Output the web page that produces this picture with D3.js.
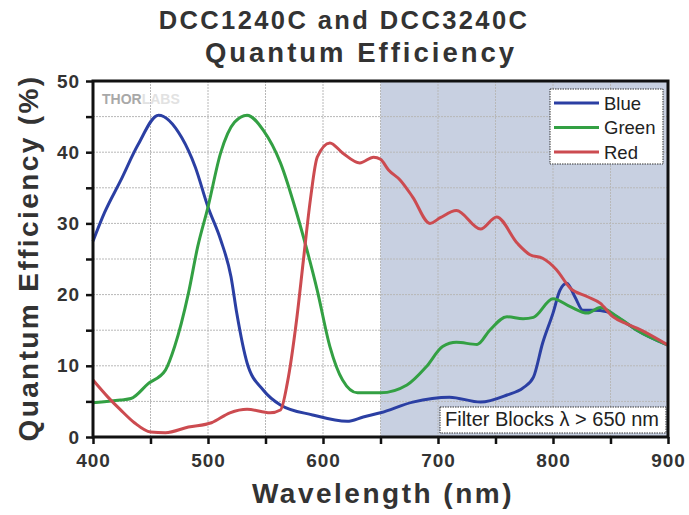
<!DOCTYPE html>
<html><head><meta charset="utf-8">
<script src="https://cdn.jsdelivr.net/npm/d3@7/dist/d3.min.js"></script>
<style>body{margin:0;background:#fff}svg{display:block}</style>
</head><body>
<svg id="c" width="689" height="515"></svg>
<script>
const titleLines = ["DCC1240C and DCC3240C", "Quantum Efficiency"];
const xTicks = [400, 500, 600, 700, 800, 900];
const yTicks = [0, 10, 20, 30, 40, 50];
const seriesNames = ["Blue", "Green", "Red"];
const seriesColors = ["#2b3fa3", "#33a043", "#cc4b50"];
const blueWl = [400,410,424,439,457,477,489,500,511,520,525,534,548,563,591,621,635,650,678,710,737,760,774,783,791,800,806,812,819,826,835,847,860,873,900];
const blueQE = [27.5,31.5,36.0,41.0,45.2,42.1,37.9,32.3,27.7,22.5,17.4,10.4,6.6,4.5,3.1,2.2,2.8,3.4,4.9,5.6,4.9,5.9,6.9,8.4,13.2,17.4,20.6,21.6,19.7,17.8,17.8,17.6,16.4,15.0,12.9];
const greenWl = [400,424,433,448,463,471,483,491,500,511,523,534,548,563,577,586,595,606,617,630,650,673,690,704,716,734,745,760,774,783,800,815,830,841,856,873,900];
const greenQE = [4.8,5.2,5.4,7.5,9.4,12.7,20.2,26.7,32.3,39.9,44.2,45.2,43.1,38.5,31.5,26.3,20.6,12.7,8.0,6.2,6.2,7.3,9.9,12.7,13.3,13.0,15.0,16.9,16.6,16.8,19.4,18.3,17.4,18.2,16.9,15.0,12.9];
const redWl = [400,413,424,436,450,463,483,503,519,534,554,563,569,577,583,589,595,606,617,632,644,650,657,667,678,693,702,716,737,751,769,780,791,803,815,830,841,852,864,873,900];
const redQE = [8.0,5.6,3.8,2.0,0.7,0.6,1.4,2.0,3.4,3.9,3.4,3.8,7.6,16.4,24.9,33.3,39.3,41.3,39.9,38.5,39.3,39.0,37.5,36.1,33.7,30.0,30.8,31.8,29.2,30.9,27.2,25.6,25.1,23.5,20.9,19.7,18.8,16.9,15.9,15.3,12.9];
const filterStart = 650;
const noteText = "Filter Blocks \u03bb > 650 nm";

const svg = d3.select("#c");
const x = d3.scaleLinear().domain([400, 900]).range([93, 668]);
const y = d3.scaleLinear().domain([0, 50]).range([437, 81]);
const FONT = "'Liberation Sans', Arial, sans-serif";
const txt = "#333";

// shaded filter region
svg.append("rect").attr("x", x(filterStart)).attr("y", y(50))
  .attr("width", x(900) - x(filterStart)).attr("height", y(0) - y(50))
  .attr("fill", "#c8d0e1");

// grid
const g = svg.append("g");
d3.range(450, 900, 50).forEach(v => {
  g.append("line").attr("x1", x(v)).attr("x2", x(v)).attr("y1", y(0)).attr("y2", y(50))
    .attr("stroke", "#b8b8b8").attr("stroke-width", 1).attr("stroke-dasharray", "2,1");
});
d3.range(5, 50, 5).forEach(v => {
  g.append("line").attr("x1", x(400)).attr("x2", x(900)).attr("y1", y(v)).attr("y2", y(v))
    .attr("stroke", "#b8b8b8").attr("stroke-width", 1).attr("stroke-dasharray", "2,1");
});

// watermark
const wm = svg.append("text").attr("x", 102).attr("y", 104)
  .attr("font-family", FONT).attr("font-weight", "bold").attr("font-size", 14);
wm.append("tspan").attr("fill", "#a8a8a8").text("THOR");
wm.append("tspan").attr("fill", "#e2e2e2").text("LABS");

// lines
const series = [[blueWl, blueQE], [greenWl, greenQE], [redWl, redQE]];
const line = d3.line().x(d => x(d[0])).y(d => y(d[1])).curve(d3.curveMonotoneX);
series.forEach((s, i) => {
  const pts = s[0].map((w, j) => [w, s[1][j]]);
  svg.append("path").datum(pts).attr("d", line).attr("fill", "none")
    .attr("stroke", seriesColors[i]).attr("stroke-width", 3).attr("stroke-linejoin", "round");
});

// axes
const xAxis = d3.axisBottom(x).tickValues(d3.range(400, 901, 50)).tickSize(7).tickFormat(d => xTicks.includes(d) ? d : "");
const yAxis = d3.axisLeft(y).tickValues(d3.range(0, 51, 5)).tickSize(7).tickFormat(d => yTicks.includes(d) ? d : "");
const gx = svg.append("g").attr("transform", `translate(0,${y(0)})`).call(xAxis);
const gy = svg.append("g").attr("transform", `translate(${x(400)},0)`).call(yAxis);
[gx, gy].forEach(a => {
  a.select(".domain").remove();
  a.selectAll(".tick line").attr("stroke", "#111").attr("stroke-width", 2.5);
  a.selectAll(".tick text").attr("font-family", FONT).attr("font-weight", "bold")
    .attr("font-size", 19).attr("fill", txt).attr("letter-spacing", 1);
});
gx.selectAll(".tick text").attr("dy", "1.05em");
gy.selectAll(".tick text").attr("dx", "-0.15em");

// frame
svg.append("rect").attr("x", x(400)).attr("y", y(50)).attr("width", x(900) - x(400)).attr("height", y(0) - y(50))
  .attr("fill", "none").attr("stroke", "#111").attr("stroke-width", 3);

// legend
const lg = svg.append("g");
lg.append("rect").attr("x", 550).attr("y", 89).attr("width", 113).attr("height", 75)
  .attr("fill", "#fff").attr("stroke", "#333").attr("stroke-width", 1).attr("stroke-dasharray", "1.5,1");
seriesNames.forEach((n, i) => {
  const cy = 103 + i * 24.5;
  lg.append("line").attr("x1", 554).attr("x2", 599).attr("y1", cy).attr("y2", cy)
    .attr("stroke", seriesColors[i]).attr("stroke-width", 3);
  lg.append("text").attr("x", 604).attr("y", cy + 6.5).attr("font-family", FONT)
    .attr("font-size", 18.5).attr("fill", "#222").text(n);
});

// note box
svg.append("rect").attr("x", 440).attr("y", 407).attr("width", 226).attr("height", 26)
  .attr("fill", "#fff").attr("stroke", "#333").attr("stroke-width", 1).attr("stroke-dasharray", "1.5,1");
svg.append("text").attr("x", 445).attr("y", 426).attr("font-family", FONT).attr("font-size", 20)
  .attr("fill", "#222").text(noteText);

// titles
svg.append("text").attr("x", 344).attr("y", 29).attr("text-anchor", "middle").attr("font-family", FONT)
  .attr("font-weight", "bold").attr("font-size", 25.5).attr("letter-spacing", 2.4).attr("fill", txt).text(titleLines[0]);
svg.append("text").attr("x", 361).attr("y", 62).attr("text-anchor", "middle").attr("font-family", FONT)
  .attr("font-weight", "bold").attr("font-size", 27.5).attr("letter-spacing", 3).attr("fill", txt).text(titleLines[1]);

svg.append("text").attr("x", 383).attr("y", 503).attr("text-anchor", "middle").attr("font-family", FONT)
  .attr("font-weight", "bold").attr("font-size", 28).attr("letter-spacing", 2.5).attr("fill", txt).text("Wavelength (nm)");
svg.append("text").attr("transform", "translate(38,258) rotate(-90)").attr("text-anchor", "middle").attr("font-family", FONT)
  .attr("font-weight", "bold").attr("font-size", 28).attr("letter-spacing", 2.4).attr("fill", txt).text("Quantum Efficiency (%)");
</script>
</body></html>
